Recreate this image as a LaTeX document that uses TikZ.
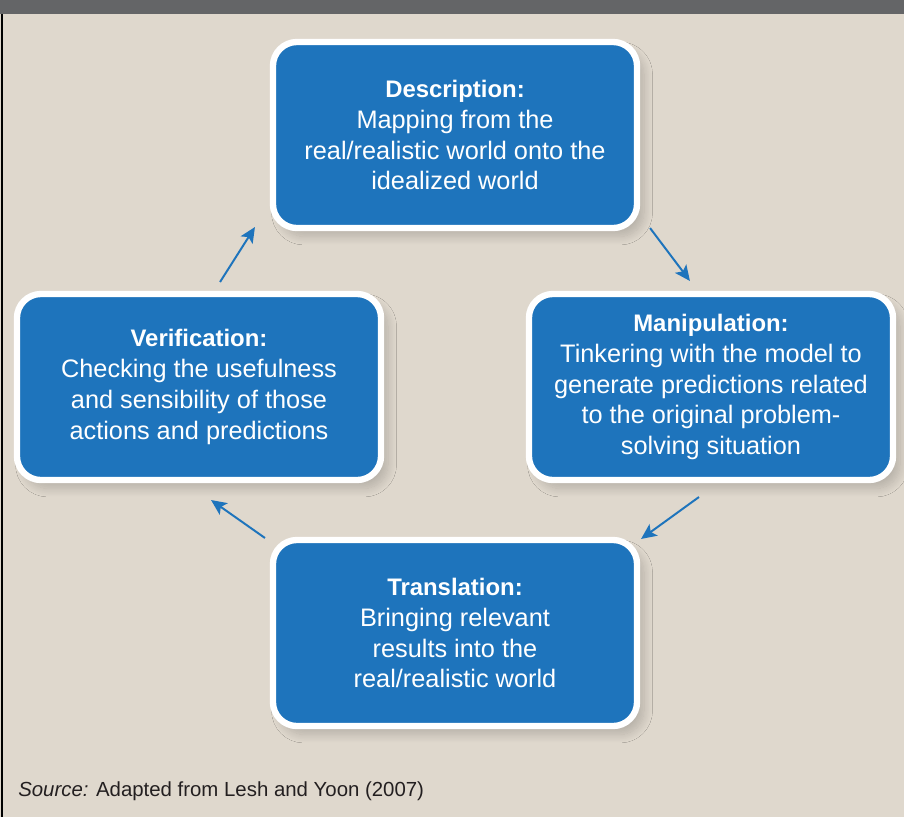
\documentclass[tikz,border=0pt]{standalone}
\usepackage{fontspec}
\setmainfont{Liberation Sans}
\usetikzlibrary{arrows.meta,calc,shadows.blur}

\definecolor{paper}{RGB}{223,216,205}
\definecolor{bargray}{RGB}{100,101,103}
\definecolor{stepblue}{RGB}{30,116,188}
\definecolor{srcink}{RGB}{35,31,32}

\newcommand{\steptitle}[1]{{\fontsize{17}{22}\selectfont\bfseries #1}}

\tikzset{
    stepbox/.style={draw=white, line width=4.5pt, fill=stepblue, rounded corners=0.6cm,
        minimum width=9.1cm, minimum height=4.65cm, inner sep=0pt, outer sep=0pt,
        align=center, text=white, font=\fontsize{18}{22}\selectfont,
        blur shadow={shadow xshift=5pt, shadow yshift=-6pt, shadow blur radius=6pt,
            shadow blur steps=14, shadow opacity=18}},
    flow/.style={draw=stepblue, line width=1.4pt, -{Stealth[length=11pt,width=10pt,inset=2.5pt]}}
}

\begin{document}
\begin{tikzpicture}[x=0.025cm, y=-0.025cm]
        \useasboundingbox (0,0) rectangle (904,817);
        \fill[paper] (0,0) rectangle (904,817);
        \fill[bargray] (0,0) rectangle (904,14);
        \draw[black, line width=1.1pt] (2,14) -- (2,817);

        \node[stepbox] (desc) at (455,135) {\steptitle{Description:}\\Mapping from the\\real/realistic world onto the\\idealized world};
        \node[stepbox] (manip) at (711,387) {\steptitle{Manipulation:}\\Tinkering with the model to\\generate predictions related\\to the original problem-\\solving situation};
        \node[stepbox] (transl) at (455,633) {\steptitle{Translation:}\\Bringing relevant\\results into the\\real/realistic world};
        \node[stepbox] (verif) at (199,387) {\steptitle{Verification:}\\Checking the usefulness\\and sensibility of those\\actions and predictions};

        % arrow ends sit just off the box corners
        \coordinate (desc-out) at ($(desc.south east)+(13,0)$);
        \coordinate (manip-in) at ($(manip.north west)+(161,-13)$);
        \coordinate (manip-out) at ($(manip.south west)+(170,17)$);
        \coordinate (transl-in) at ($(transl.north east)+(4,-1)$);
        \coordinate (transl-out) at ($(transl.north west)+(-8,-2)$);
        \coordinate (verif-in) at ($(verif.south east)+(-170,20)$);
        \coordinate (verif-out) at ($(verif.north east)+(-161,-12)$);
        \coordinate (desc-in) at ($(desc.south west)+(-18,-1)$);

        \draw[flow] (desc-out) -- (manip-in);
        \draw[flow] (manip-out) -- (transl-in);
        \draw[flow] (transl-out) -- (verif-in);
        \draw[flow] (verif-out) -- (desc-in);

        \node[anchor=base west, text=srcink, font=\fontsize{14.5}{16}\selectfont, inner sep=0pt] (src) at (18,796) {\textit{Source:} Adapted from Lesh and Yoon (2007)};
\end{tikzpicture}
\end{document}
